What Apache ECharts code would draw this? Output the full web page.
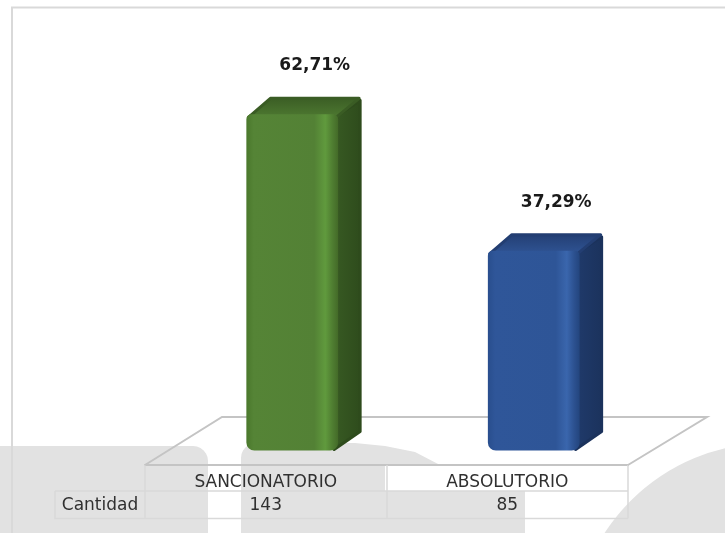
<!DOCTYPE html>
<html>
<head>
<meta charset="utf-8">
<script src="https://cdn.jsdelivr.net/npm/echarts@6/dist/echarts.min.js"></script>
<style>
  html, body { margin: 0; padding: 0; background: #fff; }
  #chart { width: 725px; height: 533px; }
</style>
</head>
<body>
<div id="chart"></div>
<script>
// datos
const categories = ['SANCIONATORIO', 'ABSOLUTORIO'];
const counts = [143, 85];
const percents = [62.71, 37.29];
const rowLabel = 'Cantidad';

// estilo de las barras 3D
const barColors = [
  {
    front: [['#4a782c', 0], ['#558436', 0.08], ['#538135', 0.74], ['#609a3d', 0.86], ['#4f7d31', 0.94], ['#436a28', 1]],
    side: ['#385b23', '#2e4b1c'],
    top: ['#3a5c24', '#4f7b32']
  },
  {
    front: [['#294e8d', 0], ['#2f5699', 0.08], ['#2e5597', 0.74], ['#3a66ad', 0.86], ['#2c5190', 0.94], ['#23457e', 1]],
    side: ['#203b6c', '#1b325c'],
    top: ['#233e72', '#305596']
  }
];

const GRID_LEFT = 145, GRID_RIGHT = 97, GRID_BOTTOM = 68, GRID_TOP = 63;
const SHIFT_X = 26.5, SHIFT_Y = -14.5;   // desplazamiento de la barra sobre el piso
const DX = 22, DY = -17;                 // profundidad
const BAR_RATIO = 0.38;
const LINE = '#d9d9d9', FLOOR = '#c4c4c4', WM = '#e2e2e2';
const TXT = '#303030';

function stops(list) {
  return list.map(s => ({ offset: s[1], color: s[0] }));
}

function fmtPct(v) {
  return v.toFixed(2).replace('.', ',') + '%';
}

// esquina redondeada aproximada (cuarto de arco)
function arc(cx, cy, r, a0, a1) {
  const pts = [];
  for (let k = 0; k <= 6; k++) {
    const a = (a0 + (a1 - a0) * k / 6) * Math.PI / 180;
    pts.push([cx + r * Math.cos(a), cy + r * Math.sin(a)]);
  }
  return pts;
}

const chart = echarts.init(document.getElementById('chart'));

const W = 725, H = 533;
const floorY = H - GRID_BOTTOM;
const rightX = W - GRID_RIGHT;

const wm1 = [[0, 446]].concat(arc(193, 461, 15, -90, 0), [[208, H], [0, H]]);
const wm2 = [[241, H]].concat(arc(256, 458, 15, 180, 270),
  [[355, 443], [385, 446], [415, 452], [440, 465], [385, 465], [385, 491], [525, 491], [525, H]]);

const option = {
  animation: false,
  grid: { left: GRID_LEFT, right: GRID_RIGHT, top: GRID_TOP, bottom: GRID_BOTTOM },
  xAxis: {
    type: 'category',
    data: categories,
    axisLine: { show: true, lineStyle: { color: FLOOR, width: 2 } },
    axisTick: { show: true, length: 53.5, lineStyle: { color: LINE, width: 1.5 } },
    axisLabel: {
      margin: 6.5,
      verticalAlign: 'top',
      formatter: (value, index) => '{a|' + value + '}\n{b|' + counts[index] + '}',
      rich: {
        a: { fontFamily: 'DejaVu Sans', fontSize: 17, color: TXT, lineHeight: 23 },
        b: { fontFamily: 'DejaVu Sans', fontSize: 17, color: TXT, lineHeight: 23 }
      }
    },
    splitLine: { show: false }
  },
  yAxis: { type: 'value', min: 0, max: 75, show: false },
  graphic: [
    // marca de agua
    { type: 'polygon', z: -10, shape: { points: wm1 }, style: { fill: WM } },
    { type: 'polygon', z: -10, shape: { points: wm2 }, style: { fill: WM } },
    { type: 'circle', z: -10, shape: { cx: 770, cy: 640, r: 197 }, style: { fill: WM } },
    // borde
    { type: 'polyline', z: -5, shape: { points: [[12, H], [12, 7.5], [W, 7.5]] }, style: { stroke: LINE, lineWidth: 2, fill: null } },
    // piso
    { type: 'polyline', z: 1, shape: { points: [[GRID_LEFT, floorY], [222, 417], [707, 417], [rightX, floorY]] }, style: { stroke: FLOOR, lineWidth: 2, fill: null } },
    // tabla
    { type: 'line', z: 1, shape: { x1: 55, y1: 491, x2: rightX, y2: 491 }, style: { stroke: LINE, lineWidth: 1.5 } },
    { type: 'polyline', z: 1, shape: { points: [[55, 491], [55, 518.5], [rightX, 518.5]] }, style: { stroke: LINE, lineWidth: 1.5, fill: null } },
    { type: 'text', z: 1, style: { text: rowLabel, x: 100, y: 506, align: 'center', verticalAlign: 'middle', font: '17px "DejaVu Sans"', fill: TXT } }
  ],
  series: [{
    type: 'custom',
    data: percents.map((v, i) => [i, v]),
    renderItem(params, api) {
      const i = params.dataIndex;
      const top = api.coord([api.value(0), api.value(1)]);
      const base = api.coord([api.value(0), 0]);
      const bw = api.size([1, 0])[0] * BAR_RATIO;
      const cx = top[0] + SHIFT_X;
      const yt = top[1] + SHIFT_Y;
      const yb = base[1] + SHIFT_Y;
      const xl = cx - bw / 2, xr = cx + bw / 2;
      const c = barColors[i];
      return {
        type: 'group',
        children: [
          {
            type: 'polygon',
            shape: { points: [[xr - 4, yb - 1], [xr + DX, yb + DY - 2], [xr + DX, yt + DY + 3], [xr - 4, yt + 3]] },
            style: {
              fill: { type: 'linear', x: 0, y: 0, x2: 1, y2: 0, colorStops: stops([[c.side[0], 0], [c.side[1], 1]]) },
              stroke: c.side[1], lineWidth: 3, lineJoin: 'round'
            }
          },
          {
            type: 'polygon',
            shape: { points: [[xl + 2, yt + 3], [xl + DX + 2, yt + DY + 1], [xr + DX - 1, yt + DY + 1], [xr - 2, yt + 3]] },
            style: {
              fill: { type: 'linear', x: 0, y: 0, x2: 0, y2: 1, colorStops: stops([[c.top[0], 0], [c.top[1], 1]]) },
              stroke: c.top[0], lineWidth: 3, lineJoin: 'round'
            }
          },
          {
            type: 'rect',
            shape: { x: xl, y: yt, width: bw, height: yb - yt, r: [5, 5, 8, 8] },
            style: { fill: { type: 'linear', x: 0, y: 0, x2: 1, y2: 0, colorStops: stops(c.front) } }
          },
          {
            type: 'text',
            style: {
              text: fmtPct(percents[i]), x: cx + 22.5, y: yt - 48.5,
              align: 'center', verticalAlign: 'middle',
              font: 'bold 17px "DejaVu Sans"', fill: '#1a1a1a'
            }
          }
        ]
      };
    }
  }]
};

chart.setOption(option);
</script>
</body>
</html>
